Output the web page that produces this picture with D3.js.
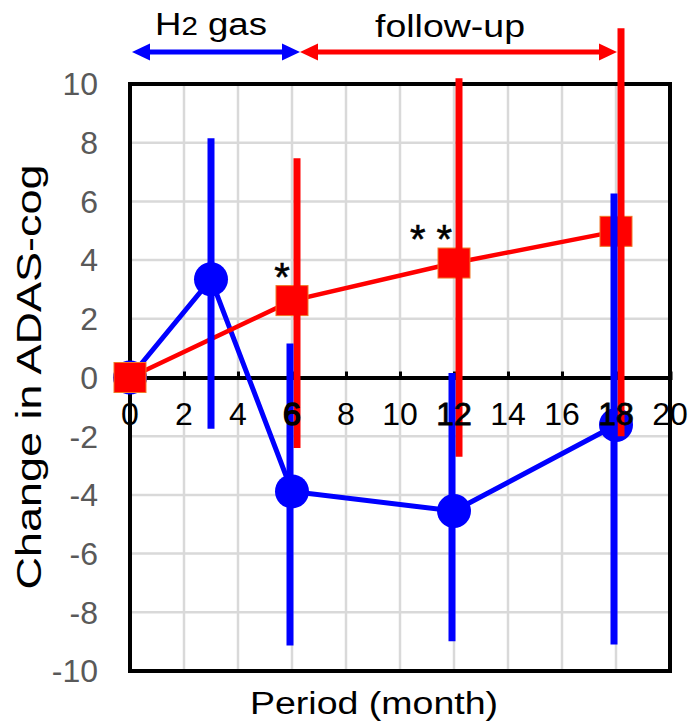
<!DOCTYPE html>
<html>
<head>
<meta charset="utf-8">
<script src="https://cdn.jsdelivr.net/npm/d3@7"></script>
<style>
  html, body { margin: 0; padding: 0; background: #fff; }
  svg { display: block; font-family: "Liberation Sans", Arial, sans-serif; }
</style>
</head>
<body>
<svg id="chart" width="690" height="722"></svg>
<script>
// ---- data ----
const xTicks = [0, 2, 4, 6, 8, 10, 12, 14, 16, 18, 20];
const yTicks = [10, 8, 6, 4, 2, 0, -2, -4, -6, -8, -10];

const blueX = [0, 3, 6, 12, 18];
const blueY = [0, 3.35, -3.88, -4.55, -1.62];
const blueErrX = [3, 6, 12, 18];
const blueLow = [-1.75, -9.13, -8.99, -9.1];
const blueHigh = [8.15, 1.16, 0.15, 6.27];

const redX = [0, 6, 12, 18];
const redY = [0, 2.62, 3.9, 4.98];
const redErrX = [6, 12, 18];
const redLow = [-2.4, -2.7, -2.0];
const redHigh = [7.47, 10.2, 11.9];

const phases = [
  { label: "follow-up", start: 6, end: 18 },
];
const marks = [
  { x: 6, y: 2.62, text: "*" },
  { x: 12, y: 3.9, text: "* *" }
];

// ---- drawing ----
const svg = d3.select("#chart");
const x = d3.scaleLinear().domain([0, 20]).range([130, 670]);
const y = d3.scaleLinear().domain([-10, 10]).range([671, 84]);

const BLUE = "#0000ff", RED = "#ff0000";

// grid
const grid = svg.append("g");
grid.selectAll("line.v").data(xTicks.filter(d => d > 0 && d < 20)).join("line")
  .attr("x1", d => x(d)).attr("x2", d => x(d)).attr("y1", y(10)).attr("y2", y(-10))
  .attr("stroke", "#d9d9d9").attr("stroke-width", 2.5);
grid.selectAll("line.h").data(yTicks.filter(d => d > -10 && d < 10 && d !== 0)).join("line")
  .attr("x1", x(0)).attr("x2", x(20)).attr("y1", d => y(d)).attr("y2", d => y(d))
  .attr("stroke", "#d9d9d9").attr("stroke-width", 2.5);

// border
svg.append("rect").attr("x", x(0)).attr("y", y(10))
  .attr("width", x(20) - x(0)).attr("height", y(-10) - y(10))
  .attr("fill", "none").attr("stroke", "#000").attr("stroke-width", 4);

// zero axis with ticks
const xAxis = d3.axisTop(x).tickValues(xTicks).tickSize(6).tickFormat("");
const xa = svg.append("g").attr("transform", `translate(0,${y(0)})`).call(xAxis);
xa.select(".domain").attr("stroke", "#000").attr("stroke-width", 4);
xa.selectAll(".tick line").attr("stroke", "#000").attr("stroke-width", 3);

// y tick labels
const yAxis = d3.axisLeft(y).tickValues(yTicks).tickSize(0).tickPadding(0)
  .tickFormat(d => d < 0 ? "-" + Math.abs(d) : String(d));
const ya = svg.append("g").attr("transform", `translate(98,0)`).call(yAxis);
ya.select(".domain").remove();
ya.selectAll(".tick text").attr("fill", "#595959").attr("font-size", 32)
  .attr("font-family", "Liberation Sans, Arial, sans-serif").attr("dy", "0.34em");

// lines
const line = d3.line().x(d => x(d[0])).y(d => y(d[1]));
svg.append("path").datum(blueX.map((v, i) => [v, blueY[i]]))
  .attr("d", line).attr("fill", "none").attr("stroke", BLUE).attr("stroke-width", 5);
svg.append("path").datum(redX.map((v, i) => [v, redY[i]]))
  .attr("d", line).attr("fill", "none").attr("stroke", RED).attr("stroke-width", 4.5);

// blue circles
svg.selectAll("circle.b").data(blueX.map((v, i) => [v, blueY[i]])).join("circle")
  .attr("cx", d => x(d[0])).attr("cy", d => y(d[1])).attr("r", 17).attr("fill", BLUE);

// red squares
svg.selectAll("rect.r").data(redX.map((v, i) => [v, redY[i]])).join("rect")
  .attr("x", d => x(d[0]) - 16).attr("y", d => y(d[1]) - 15).attr("width", 32).attr("height", 30)
  .attr("fill", RED).attr("stroke", "#f07828").attr("stroke-width", 1);

// error bars (offset horizontally as in the source)
const RED_DX = 5, BLUE_DX = -2;
svg.selectAll("line.re").data(redErrX.map((v, i) => [v, redLow[i], redHigh[i]])).join("line")
  .attr("x1", d => x(d[0]) + RED_DX).attr("x2", d => x(d[0]) + RED_DX)
  .attr("y1", d => y(d[1])).attr("y2", d => y(d[2]))
  .attr("stroke", RED).attr("stroke-width", 7);
svg.selectAll("line.be").data(blueErrX.map((v, i) => [v, blueLow[i], blueHigh[i]])).join("line")
  .attr("x1", (d, i) => x(d[0]) + (i === 0 ? 0 : BLUE_DX)).attr("x2", (d, i) => x(d[0]) + (i === 0 ? 0 : BLUE_DX))
  .attr("y1", d => y(d[1])).attr("y2", d => y(d[2]))
  .attr("stroke", BLUE).attr("stroke-width", 7);

// x tick labels (on top)
svg.append("g").selectAll("text").data(xTicks).join("text")
  .attr("x", d => x(d)).attr("y", 425).attr("text-anchor", "middle")
  .attr("font-size", 32).attr("fill", "#000")
  .attr("stroke", d => (d === 6 || d === 12 || d === 18) ? "#000" : "none")
  .attr("stroke-width", d => d === 6 ? 1.6 : 0.8)
  .text(d => d);

// significance marks
svg.selectAll("text.m").data(marks).join("text")
  .attr("x", d => x(d.x) - (d.text.length > 1 ? 23 : 10))
  .attr("y", d => y(d.y) - 10)
  .attr("text-anchor", "middle").attr("font-size", 40).attr("fill", "#000")
  .attr("stroke", "#000").attr("stroke-width", 0.6)
  .text(d => d.text);

// axis titles
svg.append("text").attr("transform", "translate(41,377) rotate(-90)")
  .attr("text-anchor", "middle").attr("font-size", 35).attr("fill", "#000")
  .attr("textLength", 425).attr("lengthAdjust", "spacingAndGlyphs")
  .text("Change in ADAS-cog");
svg.append("text").attr("x", 250).attr("y", 714)
  .attr("font-size", 31).attr("fill", "#000")
  .attr("textLength", 248).attr("lengthAdjust", "spacingAndGlyphs")
  .text("Period (month)");

// phase arrows on top
function dblArrow(x1, x2, yy, color) {
  const g = svg.append("g");
  const L = 18, H = 8.5;
  g.append("line").attr("x1", x1 + L - 2).attr("x2", x2 - L + 2).attr("y1", yy).attr("y2", yy)
    .attr("stroke", color).attr("stroke-width", 5);
  g.append("path").attr("d", `M${x1},${yy} L${x1 + L},${yy - H} L${x1 + L},${yy + H} Z`).attr("fill", color);
  g.append("path").attr("d", `M${x2},${yy} L${x2 - L},${yy - H} L${x2 - L},${yy + H} Z`).attr("fill", color);
}
const AY = 52;
dblArrow(x(0) + 2, x(6) + 8, AY, BLUE);
dblArrow(x(6) + 8, x(18) + 1, AY, RED);

// "H2 gas" label
const h2 = svg.append("text").attr("x", 155).attr("y", 35).attr("font-size", 31).attr("fill", "#000")
  .attr("textLength", 112).attr("lengthAdjust", "spacingAndGlyphs");
h2.append("tspan").text("H");
h2.append("tspan").attr("font-size", 25).text("2");
h2.append("tspan").text(" gas");

svg.selectAll("text.p").data(phases).join("text")
  .attr("x", 375).attr("y", 37).attr("font-size", 31).attr("fill", "#000")
  .attr("textLength", 150).attr("lengthAdjust", "spacingAndGlyphs")
  .text(d => d.label);
</script>
</body>
</html>
